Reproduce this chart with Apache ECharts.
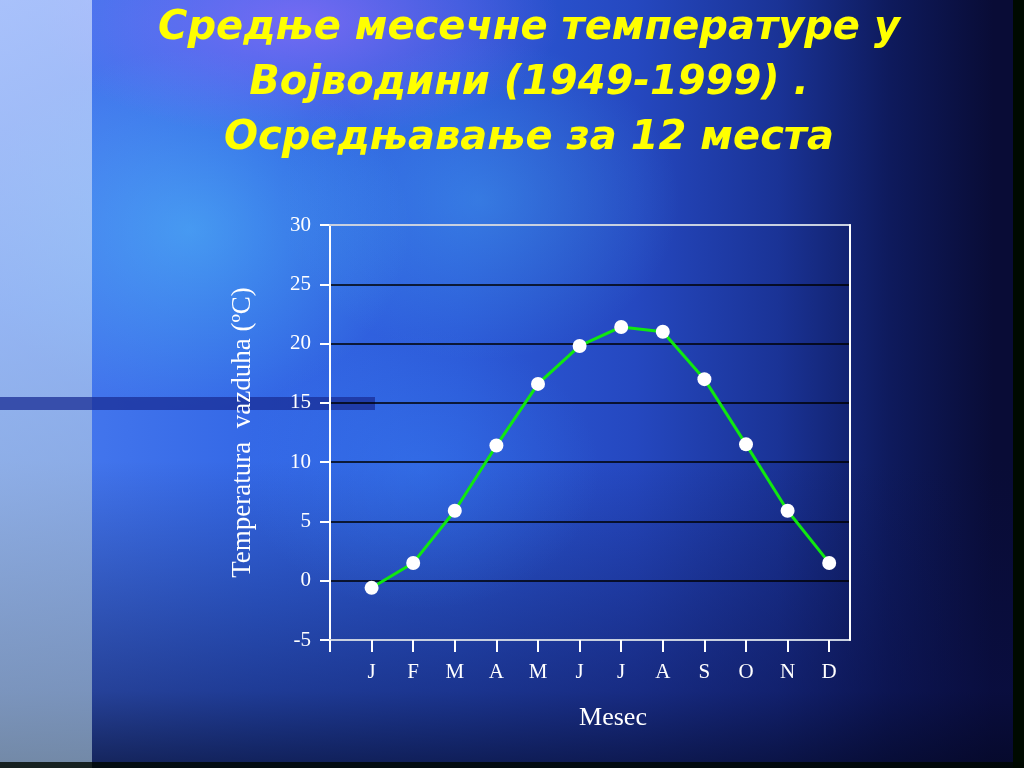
<!DOCTYPE html>
<html>
<head>
<meta charset="utf-8">
<script src="https://cdn.jsdelivr.net/npm/echarts@6/dist/echarts.min.js"></script>
<style>
html,body{margin:0;padding:0;width:1024px;height:768px;overflow:hidden;}
#bg{position:absolute;left:0;top:0;width:1024px;height:768px;
background:
 radial-gradient(ellipse 260px 120px at 300px 20px, rgba(170,110,255,0.55), rgba(170,110,255,0) 100%),
 radial-gradient(ellipse 220px 180px at 190px 230px, rgba(90,220,255,0.4), rgba(90,220,255,0) 100%),
 radial-gradient(ellipse 200px 160px at 480px 200px, rgba(80,200,255,0.3), rgba(80,200,255,0) 100%),
 radial-gradient(ellipse 180px 140px at 420px 470px, rgba(60,140,255,0.3), rgba(60,140,255,0) 100%),
 linear-gradient(to bottom, rgba(10,15,70,0) 0%, rgba(10,15,70,0) 60%, rgba(10,15,70,0.5) 90%, rgba(5,8,40,0.75) 100%),
 linear-gradient(to right, #4a7cf0 0%, #3468e6 25%, #2c5ad8 45%, #2548c0 62%, #1a3396 76%, #0e1a5c 87%, #090c36 97%);
}
#strip{position:absolute;left:0;top:0;width:92px;height:768px;
background:linear-gradient(to bottom, rgba(205,220,255,0.72) 0%, rgba(180,205,245,0.7) 40%, rgba(150,175,195,0.72) 100%);}
#bar{position:absolute;left:0;top:397px;width:375px;height:13px;background:rgba(25,45,150,0.75);}
#redge{position:absolute;left:1013px;top:0;width:11px;height:768px;background:#000a00;}
#bedge{position:absolute;left:0;top:762px;width:1024px;height:6px;background:rgba(0,8,0,0.8);}
#chart{position:absolute;left:0;top:0;width:1024px;height:768px;}
</style>
</head>
<body>
<div id="bg"></div>
<div id="strip"></div>
<div id="bar"></div>
<div id="redge"></div>
<div id="bedge"></div>
<div id="chart"></div>
<script>
const titleLines = ['Средње месечне температуре у', 'Војводини (1949-1999) .', 'Осредњавање за 12 места'];
const categories = ['J','F','M','A','M','J','J','A','S','O','N','D'];
const temperatures = [-0.6, 1.5, 5.9, 11.4, 16.6, 19.8, 21.4, 21.0, 17.0, 11.5, 5.9, 1.5];
const yTicks = [-5, 0, 5, 10, 15, 20, 25, 30];
const yAxisTitle = 'Temperatura  vazduha (ºC)';
const xAxisTitle = 'Mesec';

const positions = categories.map((c, i) => i + 1);
const seriesData = temperatures.map((v, i) => [positions[i], v]);

const chart = echarts.init(document.getElementById('chart'), null, {renderer: 'canvas'});
const serif = '"Liberation Serif", "Times New Roman", serif';
chart.setOption({
  backgroundColor: 'transparent',
  animation: false,
  title: {
    text: titleLines.join('\n'),
    left: 524,
    textAlign: 'center',
    top: -4,
    textStyle: {
      color: '#ffff00',
      fontFamily: '"DejaVu Sans", sans-serif',
      fontWeight: 'bold',
      fontStyle: 'italic',
      fontSize: 40,
      lineHeight: 55,
      textShadowColor: '#000000',
      textShadowOffsetX: 3,
      textShadowOffsetY: 3,
      textShadowBlur: 0
    }
  },
  grid: {left: 330, right: 174, top: 225, bottom: 128, show: false},
  xAxis: [{
    type: 'value',
    position: 'bottom',
    min: 0,
    max: categories.length + 0.5,
    interval: 1,
    name: xAxisTitle,
    nameLocation: 'middle',
    nameGap: 65,
    nameTextStyle: {color: '#ffffff', fontFamily: serif, fontSize: 26, padding: [0, 0, 0, 46]},
    axisLine: {show: true, onZero: false, lineStyle: {color: '#c8d0e0', width: 2}},
    axisTick: {show: true, length: 12, customValues: [0].concat(positions), lineStyle: {color: '#ffffff', width: 2}},
    axisLabel: {
      show: true, margin: 22, customValues: positions,
      color: '#ffffff', fontFamily: serif, fontSize: 21,
      formatter: v => categories[Math.round(v) - 1] || ''
    },
    splitLine: {show: false},
    z: 7
  }, {
    type: 'value',
    position: 'top',
    min: 0,
    max: categories.length + 0.5,
    axisLine: {show: true, onZero: false, lineStyle: {color: '#c8d0e0', width: 2}},
    axisTick: {show: false},
    axisLabel: {show: false},
    splitLine: {show: false},
    z: 7
  }],
  yAxis: [{
    type: 'value',
    position: 'left',
    min: yTicks[0],
    max: yTicks[yTicks.length - 1],
    interval: 5,
    name: yAxisTitle,
    nameLocation: 'middle',
    nameGap: 74,
    nameTextStyle: {color: '#ffffff', fontFamily: serif, fontSize: 27},
    axisLine: {show: true, onZero: false, lineStyle: {color: '#ffffff', width: 2}},
    axisTick: {show: true, inside: false, length: 10, lineStyle: {color: '#ffffff', width: 2}},
    axisLabel: {color: '#ffffff', fontFamily: serif, fontSize: 21, margin: 19},
    splitLine: {show: true, lineStyle: {color: '#000000', width: 1.5}},
    z: 6
  }, {
    type: 'value',
    position: 'right',
    min: yTicks[0],
    max: yTicks[yTicks.length - 1],
    interval: 5,
    axisLine: {show: true, onZero: false, lineStyle: {color: '#ffffff', width: 2}},
    axisTick: {show: false},
    axisLabel: {show: false},
    splitLine: {show: false},
    z: 8
  }],
  series: [{
    type: 'line',
    data: seriesData,
    xAxisIndex: 0,
    yAxisIndex: 0,
    symbol: 'circle',
    symbolSize: 14,
    lineStyle: {color: '#10e810', width: 3},
    itemStyle: {color: '#ffffff', borderColor: '#ffffff', borderWidth: 0},
    z: 10
  }]
});
</script>
</body>
</html>
